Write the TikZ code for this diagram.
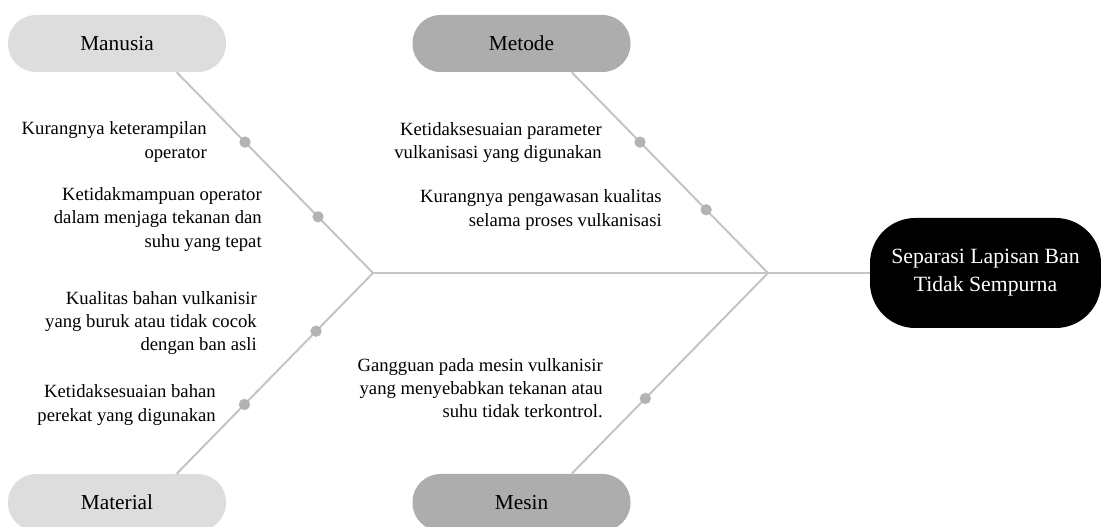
\documentclass[tikz,border=0pt]{standalone}
\usepackage{fontspec}
\setmainfont{Liberation Serif}
\usetikzlibrary{calc}
\definecolor{lightcat}{HTML}{DDDDDD}
\definecolor{darkcat}{HTML}{ADADAD}
\definecolor{boneline}{HTML}{C4C4C4}
\definecolor{dotcol}{HTML}{B3B3B3}
\tikzset{
  catbox/.style={rounded corners=21pt, minimum width=163.5pt, minimum height=42.75pt, inner sep=0pt, font=\fontsize{16}{19}\selectfont},
  effbox/.style={fill=black, text=white, rounded corners=34pt, minimum width=173.25pt, minimum height=82.5pt, inner sep=0pt, align=center, font=\fontsize{16.3}{21}\selectfont},
  bone/.style={draw=boneline, line width=1.5pt},
  cause/.style={anchor=east, align=right, inner sep=0pt, font=\fontsize{14}{17.5}\selectfont},
  bdot/.style={circle, fill=dotcol, minimum size=8.5pt, inner sep=0pt}
}
\begin{document}
\begin{tikzpicture}[x=0.75pt, y=-0.75pt]
\useasboundingbox (0,0) rectangle (1101,527);
% category boxes
\node[catbox, fill=lightcat] (man) at (117,43.5) {Manusia};
\node[catbox, fill=darkcat] (met) at (521.5,43.5) {Metode};
\node[catbox, fill=lightcat] (mat) at (117,502.5) {Material};
\node[catbox, fill=darkcat] (mes) at (521.5,502.5) {Mesin};
% effect
\node[effbox] (eff) at (985.5,273) {Separasi Lapisan Ban\\Tidak Sempurna};
% junctions
\coordinate (jl) at (373,273);
\coordinate (jr) at (768,273);
% spine
\draw[bone] (jl) -- (eff.west);
% bones
\draw[bone] ($(man.south)+(59.7,0)$) -- (jl)
  node[bdot, pos=0.348] (d1) {}
  node[bdot, pos=0.72] (d2) {};
\draw[bone] ($(met.south)+(50.2,0)$) -- (jr)
  node[bdot, pos=0.348] (d3) {}
  node[bdot, pos=0.685] (d4) {};
\draw[bone] (jl) -- ($(mat.north)+(59.7,0)$)
  node[bdot, pos=0.29] (d5) {}
  node[bdot, pos=0.655] (d6) {};
\draw[bone] (jr) -- ($(mes.north)+(50.2,0)$)
  node[bdot, pos=0.625] (d7) {};
% causes
\node[cause] (c1) at (207,142) {Kurangnya keterampilan\\operator};
\node[cause] (c2) at (262,219.5) {Ketidakmampuan operator\\dalam menjaga tekanan dan\\suhu yang tepat};
\node[cause] (c3) at (602,142.5) {Ketidaksesuaian parameter\\vulkanisasi yang digunakan};
\node[cause] (c4) at (662,210) {Kurangnya pengawasan kualitas\\selama proses vulkanisasi};
\node[cause] (c5) at (257,323) {Kualitas bahan vulkanisir\\yang buruk atau tidak cocok\\dengan ban asli};
\node[cause] (c6) at (216,405) {Ketidaksesuaian bahan\\perekat yang digunakan};
\node[cause] (c7) at (603,388) {Gangguan pada mesin vulkanisir\\yang menyebabkan tekanan atau\\suhu tidak terkontrol.};
\end{tikzpicture}
\end{document}
